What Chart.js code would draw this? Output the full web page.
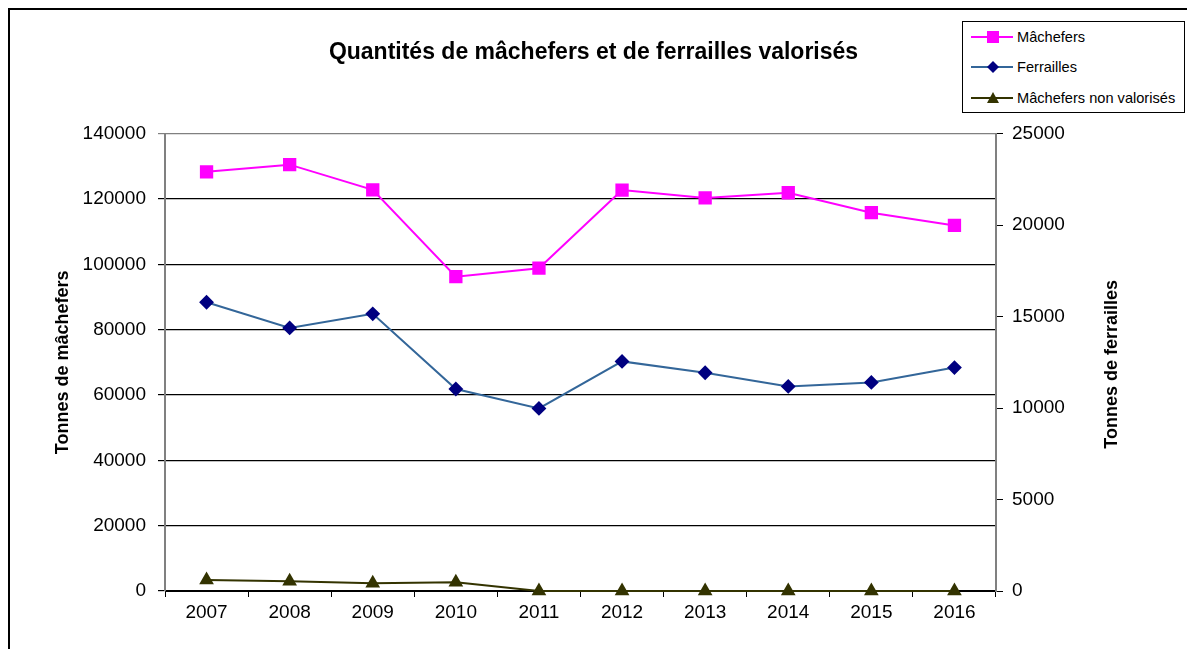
<!DOCTYPE html>
<html>
<head>
<meta charset="utf-8">
<script src="https://cdn.jsdelivr.net/npm/chart.js@4"></script>
<style>
  body { margin: 0; background: #fff; }
  #wrap { position: relative; width: 1187px; height: 649px; overflow: hidden; }
  #frame { position: absolute; left: 8px; top: 8px; width: 1300px; height: 800px;
           border-left: 2px solid #000; border-top: 2px solid #000; pointer-events: none; }
  #legend { position: absolute; left: 962px; top: 21px; width: 221px; height: 90px;
            border: 1px solid #000; background: #fff;
            font-family: 'Liberation Sans', Arial, sans-serif; font-size: 14.6px; color: #000; }
  .row { position: absolute; left: 0; height: 16px; display: flex; align-items: center; }
  .row svg { margin-left: 8px; margin-right: 4px; }
</style>
</head>
<body>
<div id="wrap">
  <canvas id="chart" width="1187" height="649"></canvas>
  <div id="frame"></div>
  <div id="legend"></div>
</div>
<script>
const years = ['2007', '2008', '2009', '2010', '2011', '2012', '2013', '2014', '2015', '2016'];
const machefers = [128300, 130500, 122800, 96200, 98800, 122700, 120300, 121900, 115800, 111900];
const ferrailles = [15780, 14380, 15150, 11040, 9980, 12550, 11930, 11180, 11400, 12210];
const nonValorises = [3400, 3000, 2400, 2700, 0, 0, 0, 0, 0, 0];
const leftTicks = [0, 20000, 40000, 60000, 80000, 100000, 120000, 140000];
const rightTicks = [0, 5000, 10000, 15000, 20000, 25000];

const seriesNames = ['Mâchefers', 'Ferrailles', 'Mâchefers non valorisés'];
const lineColors = ['#FF00FF', '#336699', '#333300'];
const markerColors = ['#FF00FF', '#000080', '#333300'];

Chart.defaults.font.family = "'Liberation Sans', Arial, sans-serif";
Chart.defaults.color = '#000';

// titre de l'axe droit, écrit de bas en haut comme à gauche
const rightTitle = {
    id: 'rightTitle',
    afterDraw(chart) {
        const ctx = chart.ctx;
        const area = chart.chartArea;
        ctx.save();
        ctx.translate(1112, (area.top + area.bottom) / 2 + 2);
        ctx.rotate(-Math.PI / 2);
        ctx.font = "bold 18px 'Liberation Sans', Arial, sans-serif";
        ctx.fillStyle = '#000';
        ctx.textAlign = 'center';
        ctx.textBaseline = 'middle';
        ctx.fillText('Tonnes de ferrailles', 0, 0);
        ctx.restore();
    }
};

const ctx = document.getElementById('chart').getContext('2d');
new Chart(ctx, {
    type: 'line',
    data: {
        labels: years,
        datasets: [{
            label: seriesNames[0],
            data: machefers,
            yAxisID: 'y',
            borderColor: lineColors[0],
            backgroundColor: markerColors[0],
            pointBackgroundColor: markerColors[0],
            pointBorderColor: markerColors[0],
            pointStyle: 'rect',
            pointRadius: 8,
            borderWidth: 2,
            tension: 0,
            clip: false
        }, {
            label: seriesNames[1],
            data: ferrailles,
            yAxisID: 'y1',
            borderColor: lineColors[1],
            backgroundColor: markerColors[1],
            pointBackgroundColor: markerColors[1],
            pointBorderColor: markerColors[1],
            pointStyle: 'rectRot',
            pointRadius: 6,
            borderWidth: 2,
            tension: 0,
            clip: false
        }, {
            label: seriesNames[2],
            data: nonValorises,
            yAxisID: 'y',
            borderColor: lineColors[2],
            backgroundColor: markerColors[2],
            pointBackgroundColor: markerColors[2],
            pointBorderColor: markerColors[2],
            pointStyle: 'triangle',
            pointRadius: 6.5,
            borderWidth: 2,
            tension: 0,
            clip: false
        }]
    },
    options: {
        responsive: false,
        animation: false,
        layout: { padding: 0 },
        plugins: {
            legend: { display: false },
            tooltip: { enabled: false },
            title: {
                display: true,
                text: 'Quantités de mâchefers et de ferrailles valorisés',
                color: '#000',
                font: { size: 23, weight: 'bold' },
                padding: { top: 39, bottom: 67 }
            }
        },
        scales: {
            x: {
                offset: true,
                grid: { offset: true, drawOnChartArea: false, tickLength: 6, color: '#000' },
                border: { color: '#000', width: 1 },
                ticks: { color: '#000', font: { size: 19 }, padding: 4, maxRotation: 0 },
                afterFit: s => { s.height = 58; }
            },
            y: {
                position: 'left',
                min: 0,
                max: leftTicks[leftTicks.length - 1],
                afterBuildTicks: s => { s.ticks = leftTicks.map(v => ({ value: v })); },
                ticks: { color: '#000', font: { size: 19 }, padding: 12, callback: v => String(v) },
                grid: {
                    color: c => (c.tick && c.tick.value === 140000) ? '#808080' : '#000',
                    lineWidth: 1.2,
                    tickLength: 7
                },
                border: { color: '#808080', width: 2 },
                title: {
                    display: true,
                    text: 'Tonnes de mâchefers',
                    color: '#000',
                    font: { size: 18, weight: 'bold' },
                    padding: { top: 52, bottom: 0 }
                },
                afterFit: s => { s.width = 165; }
            },
            y1: {
                position: 'right',
                min: 0,
                max: rightTicks[rightTicks.length - 1],
                afterBuildTicks: s => { s.ticks = rightTicks.map(v => ({ value: v })); },
                ticks: { color: '#000', font: { size: 19 }, padding: 9, callback: v => String(v) },
                grid: { drawOnChartArea: false, tickLength: 7, color: '#000' },
                border: { color: '#808080', width: 2 },
                afterFit: s => { s.width = 191; }
            }
        }
    },
    plugins: [rightTitle]
});

// légende encadrée en haut à droite
const legend = document.getElementById('legend');
const rowTops = [7, 37, 68];
const shapes = [
    c => `<rect x="16" y="1" width="12" height="12" fill="${c}"/>`,
    c => `<polygon points="22,1 28,7 22,13 16,7" fill="${c}"/>`,
    c => `<polygon points="22,1 28,12 16,12" fill="${c}"/>`
];
seriesNames.forEach((name, i) => {
    const row = document.createElement('div');
    row.className = 'row';
    row.style.top = rowTops[i] + 'px';
    row.innerHTML =
        `<svg width="42" height="14"><line x1="0" y1="7" x2="42" y2="7" stroke="${lineColors[i]}" stroke-width="2"/>` +
        shapes[i](markerColors[i]) + `</svg><span>${name}</span>`;
    legend.appendChild(row);
});
</script>
</body>
</html>
